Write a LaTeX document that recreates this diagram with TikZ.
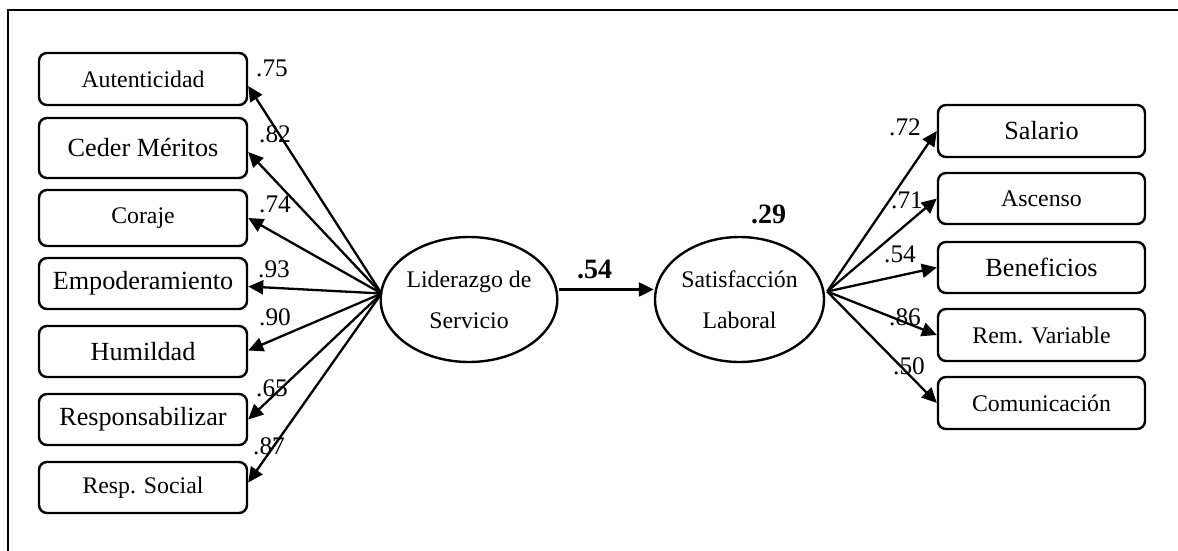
\documentclass[tikz,border=0pt]{standalone}
\usepackage{fontspec}
\setmainfont{Liberation Serif}
\usetikzlibrary{arrows.meta,shapes.geometric,calc}
\begin{document}
\begin{tikzpicture}[x=1pt,y=-1pt,
  indbox/.style={draw, line width=2.4pt, rounded corners=8pt, minimum width=208pt, inner sep=0pt},
  latent/.style={draw, ellipse, line width=2.4pt, inner sep=0pt, align=center,
                 minimum width=168pt, minimum height=125pt},
  loading/.style={line width=2.3pt, -{Triangle[length=15pt,width=14pt]}},
  big/.style={font=\fontsize{26.2}{30}\selectfont},
  small/.style={font=\fontsize{23.8}{28}\selectfont},
  ellfont/.style={font=\fontsize{23.8}{41}\selectfont},
  coef/.style={font=\fontsize{25.3}{30}\selectfont, inner sep=0pt, text depth=0pt},
  bcoef/.style={font=\bfseries\fontsize{28}{32}\selectfont, inner sep=0pt, text depth=0pt},
]
\useasboundingbox (0,0) rectangle (1178,551);
% frame lines (top and left)
\draw[line width=2.6pt] (8,551) -- (8,10) -- (1178,10);

% indicators of Liderazgo de Servicio
\node[indbox, small, minimum height=52pt] (a1) at (143,79)    {Autenticidad};
\node[indbox, big,   minimum height=60pt] (a2) at (143,148)   {Ceder Méritos};
\node[indbox, small, minimum height=56pt] (a3) at (143,218)   {Coraje};
\node[indbox, big,   minimum height=51pt] (a4) at (143,283.5) {Empoderamiento};
\node[indbox, big,   minimum height=51pt] (a5) at (143,351.5) {Humildad};
\node[indbox, big,   minimum height=51pt] (a6) at (143,419.5) {Responsabilizar};
\node[indbox, small, minimum height=51pt] (a7) at (143,487.5) {Resp. Social};

% indicators of Satisfacción Laboral
\node[indbox, big,   minimum width=207pt, minimum height=52pt] (b1) at (1041.5,131)   {Salario};
\node[indbox, small, minimum width=207pt, minimum height=51pt] (b2) at (1041.5,198.5) {Ascenso};
\node[indbox, big,   minimum width=207pt, minimum height=51pt] (b3) at (1041.5,267.5) {Beneficios};
\node[indbox, small, minimum width=207pt, minimum height=52pt] (b4) at (1041.5,335)   {Rem. Variable};
\node[indbox, small, minimum width=207pt, minimum height=52pt] (b5) at (1041.5,403)   {Comunicación};

% latent variables
\node[latent, ellfont] (L) at (469,299.5) {Liderazgo de\\Servicio};
\node[latent, ellfont, minimum width=169pt] (S) at (739.5,299.5) {Satisfacción\\Laboral};

\coordinate (ls) at ($(L.west)+(2,-6)$);
\coordinate (rs) at ($(S.east)+(2,-8)$);

% structural path
\draw[loading] ($(L.east)+(0,-10)$) -- ($(S.west)+(0,-10)$);
\node[bcoef] (p1) at (594.5,269.5) {.54};
\node[bcoef] (r2) at (768.5,214) {.29};

% loadings, left block
\draw[loading] (ls) -- ($(a1.east)+(0,7)$);
\draw[loading] (ls) -- ($(a2.east)+(0,4)$);
\draw[loading] (ls) -- (a3.east);
\draw[loading] (ls) -- ($(a4.east)+(0,3)$);
\draw[loading] (ls) -- ($(a5.east)+(0,-1)$);
\draw[loading] (ls) -- (a6.east);
\draw[loading] (ls) -- ($(a7.east)+(0,-5)$);

\node[coef] (la1) at (272,68)    {.75};
\node[coef] (la2) at (275,134.5) {.82};
\node[coef] (la3) at (275,204)   {.74};
\node[coef] (la4) at (274,269)   {.93};
\node[coef] (la5) at (275,317)   {.90};
\node[coef] (la6) at (272,388)   {.65};
\node[coef] (la7) at (269,446)   {.87};

% loadings, right block
\draw[loading] (rs) -- (b1.west);
\draw[loading] (rs) -- (b2.west);
\draw[loading] (rs) -- (b3.west);
\draw[loading] (rs) -- (b4.west);
\draw[loading] (rs) -- (b5.west);

\node[coef] (lb1) at (905,127.5) {.72};
\node[coef] (lb2) at (907,200)   {.71};
\node[coef] (lb3) at (900,254.5) {.54};
\node[coef] (lb4) at (905,317)   {.86};
\node[coef] (lb5) at (909,366)   {.50};
\end{tikzpicture}
\end{document}
